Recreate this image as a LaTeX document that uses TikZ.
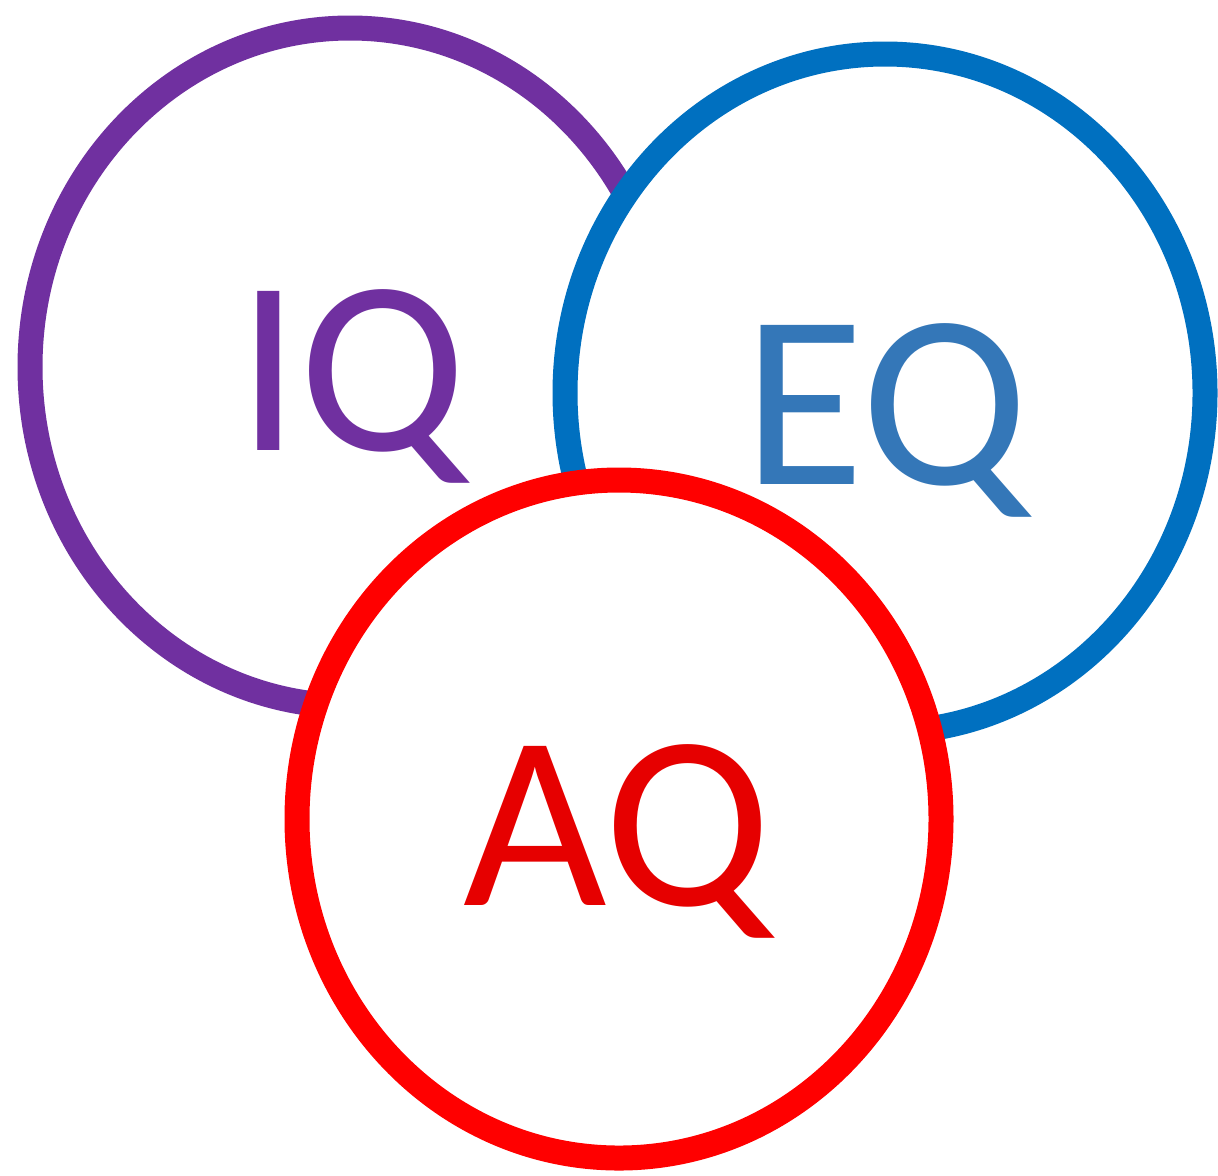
\documentclass[tikz,border=0pt]{standalone}
\usepackage{fontspec}
\setmainfont{Carlito}
\usetikzlibrary{shapes.geometric}
\definecolor{iqpurple}{HTML}{7030A0}
\definecolor{eqblue}{HTML}{0070C0}
\definecolor{eqtext}{HTML}{3477B8}
\definecolor{aqred}{HTML}{FF0000}
\definecolor{aqtext}{HTML}{E60000}
\tikzset{
  ring/.style={ellipse, draw, fill=white, line width=12.5pt, inner sep=0pt,
    minimum width=320pt, minimum height=339pt},
  label/.style={anchor=base, inner sep=0pt, font=\fontsize{124}{124}\selectfont}
}
\begin{document}
\begin{tikzpicture}[x=0.5pt, y=-0.5pt]
\useasboundingbox[fill=white] (0,0) rectangle (1218,1175);
\node[ring, draw=iqpurple] (iq) at (350,367) {};
\node[ring, draw=eqblue] (eq) at (885,393) {};
\node[ring, draw=aqred, minimum width=322pt] (aq) at (619,819) {};
\node[label, text=iqpurple] (iqt) at (352,450) {IQ};
\node[label, text=eqtext] (eqt) at (886,484) {EQ};
\node[label, text=aqtext] (aqt) at (617,905) {AQ};
\end{tikzpicture}
\end{document}
